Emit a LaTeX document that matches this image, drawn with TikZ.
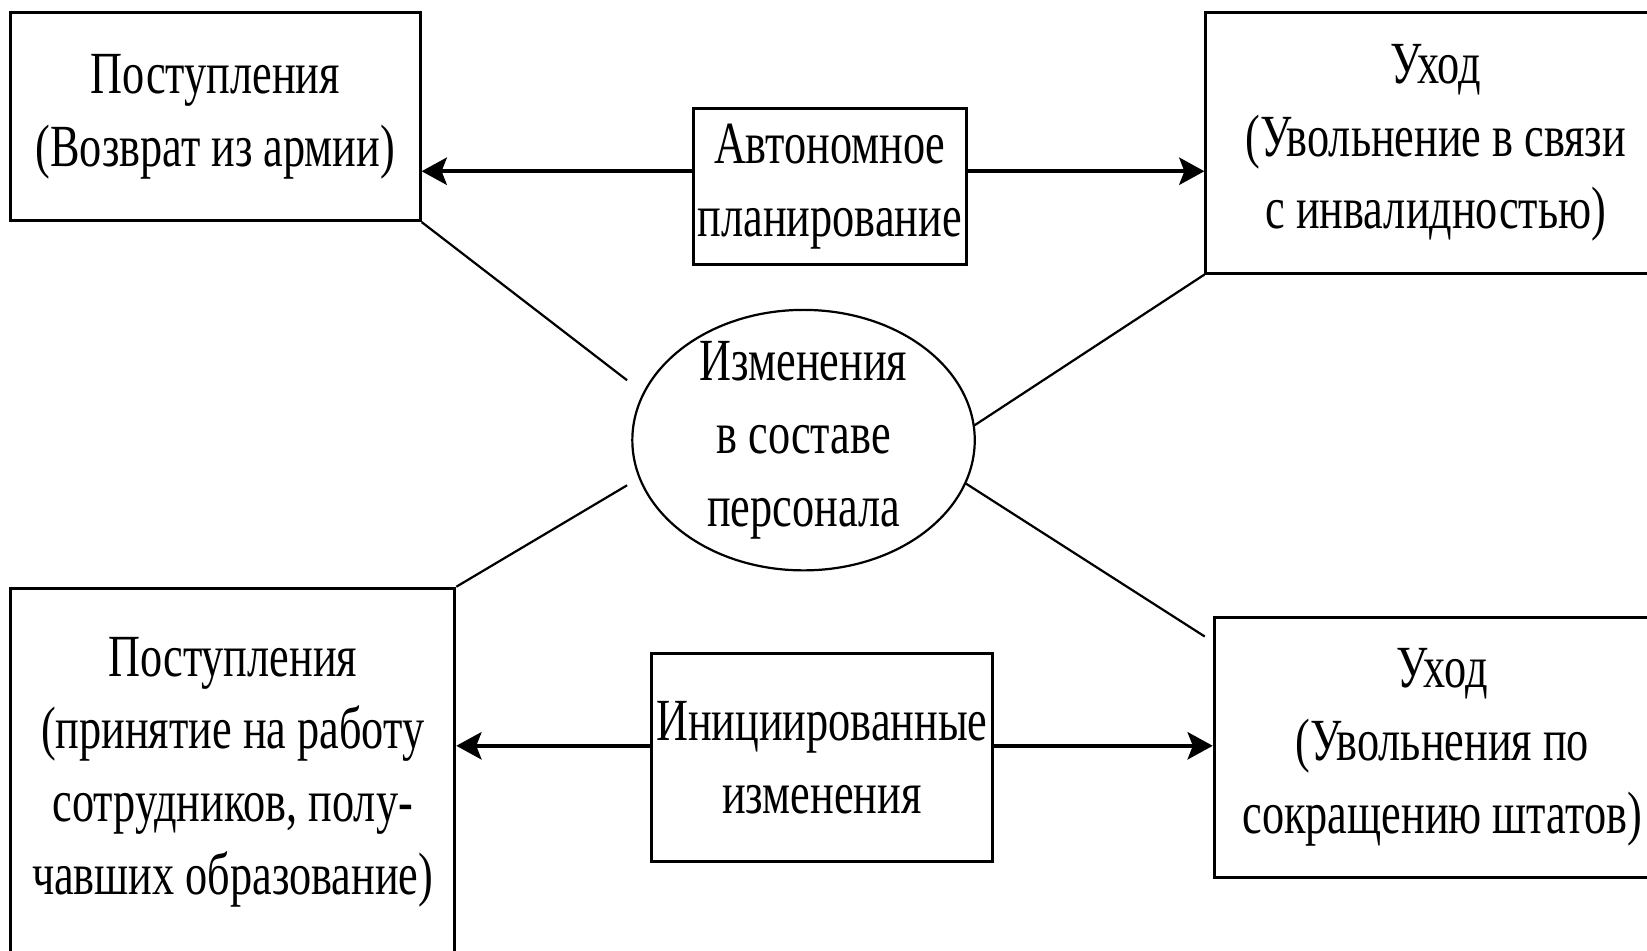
\documentclass[tikz,border=0pt]{standalone}
\usepackage{fontspec}
\setmainfont{Liberation Serif}[FakeStretch=0.74]
\usetikzlibrary{arrows.meta,shapes.geometric}

\begin{document}
\begin{tikzpicture}[>={Stealth[length=2.4mm,width=2.6mm,inset=0.5mm]},auto,
    every node/.style={font=\fontsize{16.2}{19.7}\selectfont},
    box node/.style={rectangle,draw,line width=0.8pt,inner sep=0pt,align=center},
    main node/.style={ellipse,draw,line width=0.6pt,inner xsep=0pt,inner ysep=-2mm,align=center,minimum width=3.26cm,minimum height=2.48cm}]

            \useasboundingbox (0,0) rectangle (15.68,-9.05);

            \node[main node] (0) at (7.65,-4.19) {Изменения\\в составе\\персонала};
            \node[box node,minimum width=3.9cm,minimum height=1.98cm] (1) at (2.05,-1.11) {Поступления\\(Возврат из армии)};
            \node[box node,minimum width=2.6cm,minimum height=1.49cm] (2) at (7.9,-1.775) {Автономное\\планирование};
            \node[box node,minimum width=4.38cm,minimum height=2.48cm] (3) at (13.67,-1.36) {Уход\\(Увольнение в связи\\с инвалидностью)};
            \node[box node,minimum width=4.23cm,minimum height=3.5cm] (4) at (2.215,-7.35) {Поступления\\(принятие на работу\\сотрудников, полу-\\чавших образование)};
            \node[box node,minimum width=3.25cm,minimum height=1.98cm] (5) at (7.825,-7.21) {Инициированные\\изменения};
            \node[box node,minimum width=4.34cm,minimum height=2.47cm] (6) at (13.73,-7.115) {Уход\\(Увольнения по\\сокращению штатов)};

            \coordinate (t) at (7.9,-1.63);
            \coordinate (b) at (7.8,-7.10);
            \coordinate (a) at (5.97,-3.62);
            \coordinate (c) at (5.97,-4.62);
            \coordinate (d) at (11.47,-6.06);

            \path[->,line width=1pt]
                (2.west |- t) edge (1.east |- t)
                (2.east |- t) edge (3.west |- t)
                (5.west |- b) edge (4.east |- b)
                (5.east |- b) edge (6.west |- b)
            ;
            \path[line width=0.6pt]
                (1.south east) edge (a)
                (3.south west) edge (0.5)
                (4.north east) edge (c)
                (d) edge (0.-15)
            ;
        \end{tikzpicture}
\end{document}
